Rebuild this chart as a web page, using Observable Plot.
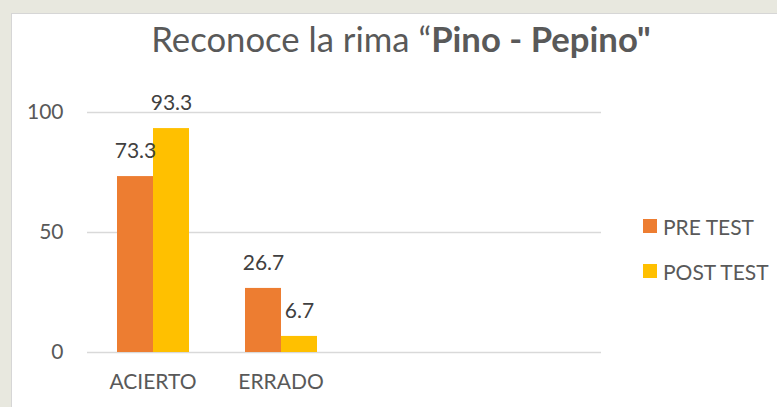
<!DOCTYPE html>
<html>
<head>
<meta charset="utf-8">
<script src="https://cdn.jsdelivr.net/npm/d3@7"></script>
<script src="https://cdn.jsdelivr.net/npm/@observablehq/plot@0.6"></script>
<style>
  html, body { margin: 0; padding: 0; }
  body { width: 777px; height: 407px; overflow: hidden; position: relative; background: #e8e8df; font-family: Lato, "Open Sans", sans-serif; }
  #frame { position: absolute; left: 11px; top: 13px; width: 800px; height: 420px; background: #fff; border-left: 1px solid #d6d6d6; border-top: 1px solid #d6d6d6; }
  #title { position: absolute; left: 0; top: 21.5px; width: 802px; text-align: center; font-size: 34.7px; line-height: 1; color: #595959; white-space: nowrap; }
  #title b { font-weight: 700; }
  .layer { position: absolute; left: 0; top: 0; }
  .layer svg { background: transparent; overflow: visible; }
  #legend { position: absolute; left: 643px; top: 203.5px; color: #595959; font-size: 21px; }
  #legend .item { height: 45px; display: flex; align-items: center; }
  #legend .sw { width: 14px; height: 14px; margin-right: 6px; }
</style>
</head>
<body>
<div id="frame"></div>
<div id="title">Reconoce la rima “<b>Pino - Pepino"</b></div>
<div id="grid" class="layer"></div>
<div id="bars" class="layer"></div>
<div id="legend"></div>
<script>
const categories = ["ACIERTO", "ERRADO"];
const emptySlots = ["slot3", "slot4"];
const series = ["PRE TEST", "POST TEST"];
const preTest = [73.3, 26.7];
const postTest = [93.3, 6.7];
const colors = ["#ED7D31", "#FFC000"];
const yTicks = [0, 50, 100];

const data = [];
categories.forEach((c, i) => {
  data.push({category: c, series: series[0], value: preTest[i]});
  data.push({category: c, series: series[1], value: postTest[i]});
});

const W = 777, H = 407;
const common = {
  width: W, height: H,
  marginLeft: 87, marginRight: 176, marginTop: 112, marginBottom: 55,
  style: {background: "transparent", color: "#595959", fontFamily: "Lato, 'Open Sans', sans-serif", fontSize: "21px", overflow: "visible"},
  y: {domain: [0, 100], ticks: yTicks}
};

const gridPlot = Plot.plot({
  ...common,
  x: {axis: null},
  y: {domain: [0, 100], ticks: yTicks, tickSize: 0, tickPadding: 24, label: null},
  marks: [
    Plot.ruleY(yTicks, {stroke: "#d9d9d9", strokeWidth: 1.3}),
    Plot.axisY(yTicks, {tickSize: 0, tickPadding: 24, label: null, fontSize: 21})
  ]
});
document.getElementById("grid").append(gridPlot);

const barPlot = Plot.plot({
  ...common,
  fx: {domain: categories.concat(emptySlots), paddingInner: 0.43, paddingOuter: 0.215, label: null,
       tickSize: 0, tickPadding: 22, tickFormat: d => categories.includes(d) ? d : ""},
  x: {domain: series, padding: 0, axis: null},
  y: {domain: [0, 100], axis: null},
  color: {domain: series, range: colors},
  marks: [
    Plot.barY(data, {fx: "category", x: "series", y: "value", fill: "series"}),
    Plot.text(data, {fx: "category", x: "series", y: "value", text: d => d.value.toFixed(1),
      lineAnchor: "middle", dy: -25, fill: "#404040", fontSize: 21})
  ]
});
document.getElementById("bars").append(barPlot);

const legend = d3.select("#legend");
series.forEach((s, i) => {
  const it = legend.append("div").attr("class", "item");
  it.append("div").attr("class", "sw").style("background", colors[i]);
  it.append("span").text(s);
});
</script>
</body>
</html>
